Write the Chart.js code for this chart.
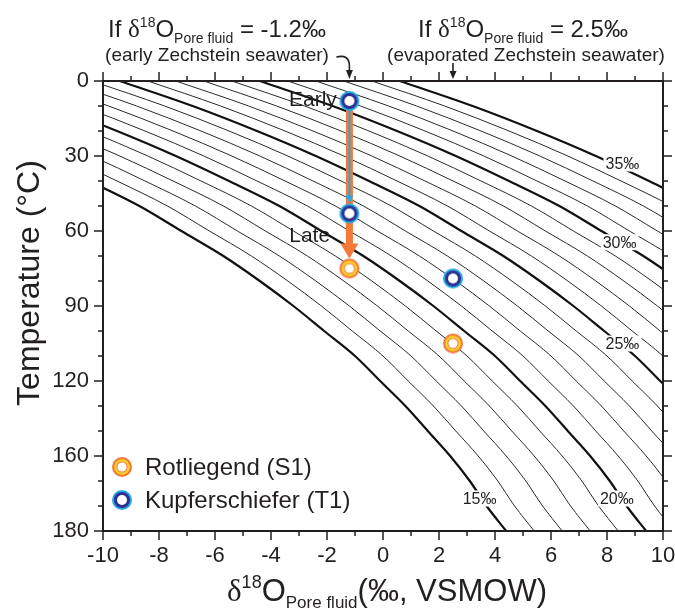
<!DOCTYPE html>
<html>
<head>
<meta charset="utf-8">
<script src="https://cdn.jsdelivr.net/npm/chart.js@4.4.1/dist/chart.umd.min.js"></script>
<style>
html, body { margin: 0; padding: 0; background: #fff; }
#wrap { width: 675px; height: 611px; }
</style>
</head>
<body>
<div id="wrap"><canvas id="chart" width="675" height="611"></canvas></div>
<script>
// temperature rows used to trace the curves (°C)
const tempRows = [0, 10, 20, 30, 40, 50, 60, 70, 80, 90, 100, 110, 120, 130, 140, 150, 160, 170, 180];
// pore fluid value where the heavy 25‰ curve crosses each row
const curve25 = [-9.4, -6.8, -4.5, -2.4, -0.5, 1.3, 2.8, 4.3, 5.6, 6.8, 7.9, 9.0, 9.9, 10.8, 11.6, 12.4, 13.1, 13.7, 14.4];
// every curve is one per mil apart
const curveValues = [15, 16, 17, 18, 19, 20, 21, 22, 23, 24, 25, 26, 27, 28, 29, 30, 31, 32, 33, 34, 35];
const heavyValues = [15, 20, 25, 30, 35];

// labels on the heavy curves
const curveLabels = ['15‰', '20‰', '25‰', '30‰', '35‰'];
const labelX = [3.45, 8.35, 8.55, 8.45, 8.55];
const labelT = [167, 167, 105, 64.5, 33];

// axis ticks
const tempTicks = [0, 30, 60, 90, 120, 150, 180];
const tempTickLabels = ['0', '30', '60', '90', '120', '160', '180'];

// samples
const rotX = [-1.2, 2.5];
const rotT = [75, 105];
const kupX = [-1.2, -1.2, 2.5];
const kupT = [8, 53, 79];

// early -> late arrows
const arrowX = -1.2;
const orangeArrowT = [11, 71];
const blueArrowT = [11, 49];

const SANS = '"Liberation Sans", Arial, sans-serif';
const SERIF = '"Liberation Serif", "Times New Roman", serif';
const INK = '#231f20';
const ORANGE = '#f37a38';
const LIGHTBLUE = '#29a9e1';

function ringMarker(rings) {
    const c = document.createElement('canvas');
    c.width = 24; c.height = 24;
    const g = c.getContext('2d');
    rings.forEach(r => {
        g.beginPath();
        g.arc(12, 12, r[0], 0, Math.PI * 2);
        g.fillStyle = r[1];
        g.fill();
    });
    return c;
}
const orangeMark = ringMarker([[10, ORANGE], [7.8, '#fcd42c'], [5.6, ORANGE], [4.6, '#fff']]);
const blueMark = ringMarker([[10, LIGHTBLUE], [8, '#2e3192'], [5, '#fff']]);

const datasets = [];
datasets.push({
    label: 'Rotliegend (S1)', isSample: true, order: 0,
    data: rotX.map((x, i) => ({ x, y: rotT[i] })),
    pointStyle: orangeMark, showLine: false
});
datasets.push({
    label: 'Kupferschiefer (T1)', isSample: true, order: 0,
    data: kupX.map((x, i) => ({ x, y: kupT[i] })),
    pointStyle: blueMark, showLine: false
});
curveValues.forEach(v => {
    const heavy = heavyValues.includes(v);
    datasets.push({
        label: v + '‰', order: 1,
        data: tempRows.map((t, i) => ({ x: curve25[i] + (v - 25), y: t })),
        showLine: true, pointRadius: 0,
        borderColor: heavy ? '#111' : '#2a2a2a',
        borderWidth: heavy ? 2.2 : 1,
        cubicInterpolationMode: 'monotone'
    });
});

function richText(ctx, runs, cx, y) {
    let w = 0;
    runs.forEach(r => { ctx.font = r.f; w += ctx.measureText(r.t).width; });
    let x = cx - w / 2;
    ctx.textAlign = 'left';
    ctx.textBaseline = 'alphabetic';
    runs.forEach(r => {
        ctx.font = r.f;
        ctx.fillText(r.t, x, y + (r.dy || 0));
        x += ctx.measureText(r.t).width;
    });
}

function arrow(ctx, x, y0, y1, width, headW, headL, color) {
    ctx.strokeStyle = color;
    ctx.fillStyle = color;
    ctx.lineWidth = width;
    ctx.beginPath();
    ctx.moveTo(x, y0);
    ctx.lineTo(x, y1 - headL + 1);
    ctx.stroke();
    ctx.beginPath();
    ctx.moveTo(x - headW, y1 - headL);
    ctx.lineTo(x + headW, y1 - headL);
    ctx.lineTo(x, y1);
    ctx.closePath();
    ctx.fill();
}

let arrowsDone = false;
const decor = {
    id: 'decor',
    beforeDatasetsDraw() { arrowsDone = false; },
    beforeDatasetDraw(chart, args) {
        const ds = chart.data.datasets[args.index];
        if (!ds.isSample || arrowsDone) return;
        arrowsDone = true;
        const { ctx, scales: { x, y } } = chart;
        const px = x.getPixelForValue(arrowX);
        ctx.save();
        arrow(ctx, px, y.getPixelForValue(orangeArrowT[0]), y.getPixelForValue(orangeArrowT[1]), 7, 9, 15, ORANGE);
        arrow(ctx, px, y.getPixelForValue(blueArrowT[0]), y.getPixelForValue(blueArrowT[1]), 2, 4, 8, LIGHTBLUE);
        ctx.restore();
    },
    afterDatasetsDraw(chart) {
        const { ctx, scales: { x, y } } = chart;
        ctx.save();
        // curve labels
        ctx.font = '16px ' + SANS;
        ctx.textAlign = 'center';
        ctx.textBaseline = 'middle';
        curveLabels.forEach((s, i) => {
            const cx = x.getPixelForValue(labelX[i]);
            const cy = y.getPixelForValue(labelT[i]);
            const w = ctx.measureText(s).width;
            ctx.fillStyle = '#fff';
            ctx.fillRect(cx - w / 2 - 2, cy - 8, w + 4, 16);
            ctx.fillStyle = INK;
            ctx.fillText(s, cx, cy + 1);
        });
        // early / late
        ctx.font = '21px ' + SANS;
        ctx.textAlign = 'right';
        ctx.fillText('Early', x.getPixelForValue(-1.65), y.getPixelForValue(7.5));
        ctx.textAlign = 'left';
        ctx.fillText('Late', x.getPixelForValue(-3.35), y.getPixelForValue(62));
        ctx.restore();
    },
    afterDraw(chart) {
        const { ctx, chartArea: a, scales: { x, y } } = chart;
        ctx.save();
        ctx.strokeStyle = INK;
        ctx.fillStyle = INK;
        // ticks on all four sides
        ctx.lineWidth = 1.5;
        ctx.beginPath();
        for (let v = -10; v <= 10; v++) {
            const px = x.getPixelForValue(v);
            const len = v % 2 === 0 ? 9 : 5;
            ctx.moveTo(px, a.bottom); ctx.lineTo(px, a.bottom + len);
            ctx.moveTo(px, a.top); ctx.lineTo(px, a.top - len);
        }
        for (let t = 0; t <= 180; t += 10) {
            const py = y.getPixelForValue(t);
            const len = t % 30 === 0 ? 9 : 5;
            ctx.moveTo(a.left, py); ctx.lineTo(a.left - len, py);
            ctx.moveTo(a.right, py); ctx.lineTo(a.right + len, py);
        }
        ctx.stroke();
        // frame
        ctx.lineWidth = 2;
        ctx.strokeRect(a.left, a.top, a.right - a.left, a.bottom - a.top);

        // legend
        const legend = [[orangeMark, 'Rotliegend (S1)', 467], [blueMark, 'Kupferschiefer (T1)', 500]];
        ctx.font = '24px ' + SANS;
        ctx.textAlign = 'left';
        ctx.textBaseline = 'middle';
        legend.forEach(l => {
            ctx.drawImage(l[0], 122 - 12, l[2] - 12);
            ctx.fillText(l[1], 145, l[2] + 1);
        });

        // axis titles
        ctx.save();
        ctx.translate(30, 283);
        ctx.rotate(-Math.PI / 2);
        ctx.font = '32px ' + SANS;
        ctx.textAlign = 'center';
        ctx.fillText('Temperature (°C)', 0, 0);
        ctx.restore();
        richText(ctx, [
            { t: 'δ', f: '31px ' + SERIF },
            { t: '18', f: '18px ' + SANS, dy: -13 },
            { t: 'O', f: '31px ' + SANS },
            { t: 'Pore fluid', f: '17px ' + SANS, dy: 7 },
            { t: '(‰, VSMOW)', f: '31px ' + SANS }
        ], 387, 601);

        // scenario notes above the plot
        const note = (val, cx) => richText(ctx, [
            { t: 'If ', f: '24px ' + SANS },
            { t: 'δ', f: '25px ' + SERIF },
            { t: '18', f: '14px ' + SANS, dy: -10 },
            { t: 'O', f: '24px ' + SANS },
            { t: 'Pore fluid', f: '14px ' + SANS, dy: 6 },
            { t: ' = ' + val + '‰', f: '24px ' + SANS }
        ], cx, 37);
        note('-1.2', 217);
        note('2.5', 523);
        ctx.font = '19px ' + SANS;
        ctx.textAlign = 'center';
        ctx.textBaseline = 'alphabetic';
        ctx.fillText('(early Zechstein seawater)', 217, 61);
        ctx.fillText('(evaporated Zechstein seawater)', 526, 61);

        // pointers to the two fluid values
        const p1 = x.getPixelForValue(-1.2);
        ctx.lineWidth = 1.6;
        ctx.beginPath();
        ctx.moveTo(p1 - 13, 57);
        ctx.quadraticCurveTo(p1, 54, p1, 66);
        ctx.lineTo(p1, 70);
        ctx.stroke();
        ctx.beginPath();
        ctx.moveTo(p1 - 3.5, 70); ctx.lineTo(p1 + 3.5, 70); ctx.lineTo(p1, 79); ctx.closePath();
        ctx.fill();
        const p2 = x.getPixelForValue(2.5);
        ctx.beginPath();
        ctx.moveTo(p2, 63); ctx.lineTo(p2, 71);
        ctx.stroke();
        ctx.beginPath();
        ctx.moveTo(p2 - 3.5, 71); ctx.lineTo(p2 + 3.5, 71); ctx.lineTo(p2, 79); ctx.closePath();
        ctx.fill();
        ctx.restore();
    }
};

new Chart(document.getElementById('chart'), {
    type: 'scatter',
    data: { datasets },
    options: {
        responsive: false,
        animation: false,
        events: [],
        layout: { padding: { top: 81, right: 12, left: 0, bottom: 0 } },
        plugins: { legend: { display: false }, tooltip: { enabled: false } },
        scales: {
            x: {
                type: 'linear', position: 'bottom', min: -10, max: 10,
                grid: { display: false, drawTicks: false },
                border: { display: false },
                ticks: { stepSize: 2, padding: 12, color: INK, font: { family: SANS, size: 22 } },
                afterFit: s => { s.height = 80; s.paddingLeft = 0; s.paddingRight = 0; }
            },
            y: {
                type: 'linear', reverse: true, min: 0, max: 180,
                grid: { display: false, drawTicks: false },
                border: { display: false },
                ticks: {
                    stepSize: 30, padding: 14, color: INK, font: { family: SANS, size: 22 },
                    callback: v => tempTickLabels[tempTicks.indexOf(v)]
                },
                afterFit: s => { s.width = 103; s.paddingTop = 0; s.paddingBottom = 0; }
            }
        }
    },
    plugins: [decor]
});
</script>
</body>
</html>
